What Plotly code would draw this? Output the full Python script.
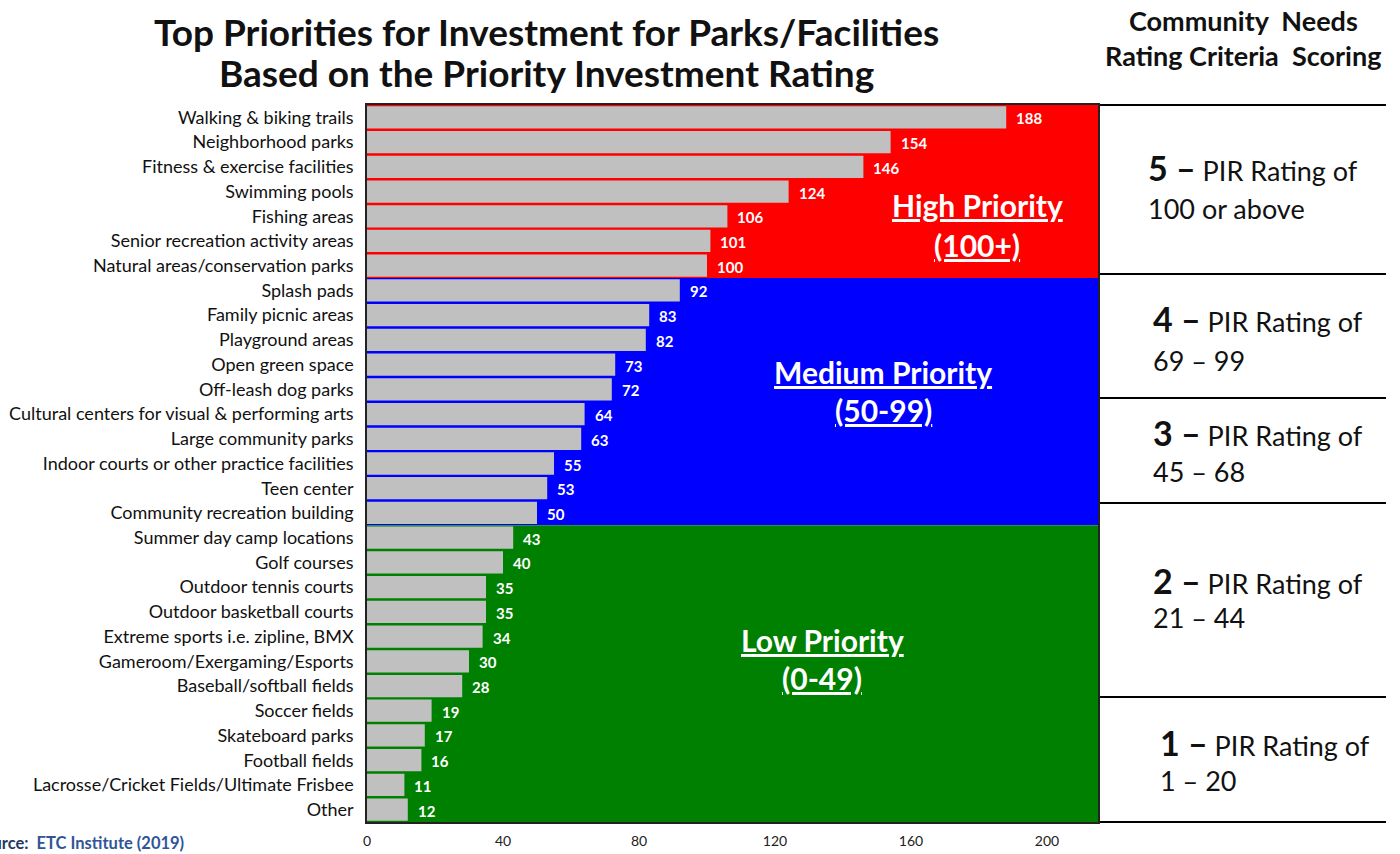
import plotly.graph_objects as go

categories = [
    "Walking & biking trails", "Neighborhood parks", "Fitness & exercise facilities",
    "Swimming pools", "Fishing areas", "Senior recreation activity areas",
    "Natural areas/conservation parks", "Splash pads", "Family picnic areas",
    "Playground areas", "Open green space", "Off-leash dog parks",
    "Cultural centers for visual & performing arts", "Large community parks",
    "Indoor courts or other practice facilities", "Teen center",
    "Community recreation building", "Summer day camp locations", "Golf courses",
    "Outdoor tennis courts", "Outdoor basketball courts",
    "Extreme sports i.e. zipline, BMX", "Gameroom/Exergaming/Esports",
    "Baseball/softball fields", "Soccer fields", "Skateboard parks",
    "Football fields", "Lacrosse/Cricket Fields/Ultimate Frisbee", "Other",
]
pir = [188, 154, 146, 124, 106, 101, 100, 92, 83, 82, 73, 72, 64, 63, 55, 53, 50,
       43, 40, 35, 35, 34, 30, 28, 19, 17, 16, 11, 12]
x_ticks = [0, 40, 80, 120, 160, 200]

priority_names = ["High Priority", "Medium Priority", "Low Priority"]
priority_ranges = ["(100+)", "(50-99)", "(0-49)"]
priority_min = [100, 50, 0]
priority_colors = ["#ff0000", "#0000ff", "#008000"]

scoring_digits = ["5", "4", "3", "2", "1"]
scoring_ranges = ["100 or above", "69 – 99", "45 – 68", "21 – 44", "1 – 20"]

FONT = "Lato"
W, H = 1400, 854
L, R, T, B = 367, 302, 105, 32
PW, PH = W - L - R, H - T - B
XMAX = 215


def px(x):
    return (x - L) / PW


def py(y):
    return (H - B - y) / PH


n = len(categories)
ypos = list(range(n))


def group_of(v):
    for gi, m in enumerate(priority_min):
        if v >= m:
            return gi
    return len(priority_min) - 1


groups = [group_of(v) for v in pir]

fig = go.Figure()
fig.add_trace(go.Bar(
    y=ypos, x=pir, orientation="h",
    marker=dict(color="#c0c0c0", line=dict(width=0)),
    hoverinfo="skip",
))

shapes = []
start = 0
for i in range(1, n + 1):
    if i == n or groups[i] != groups[start]:
        shapes.append(dict(type="rect", xref="x domain", yref="y", x0=0, x1=1,
                           y0=start - 0.5, y1=i - 0.5,
                           fillcolor=priority_colors[groups[start]],
                           line=dict(width=0), layer="below"))
        start = i

annotations = []

# value labels, placed through the axes
for i, v in zip(ypos, pir):
    annotations.append(dict(xref="x", yref="y", x=v, y=i, xanchor="left",
                            yanchor="middle", xshift=8, yshift=-1, text=f"<b>{v}</b>",
                            showarrow=False,
                            font=dict(family=FONT, size=15, color="white")))


def ann(x, y, text, size, color="#111111", xanchor="center", **kw):
    annotations.append(dict(xref="paper", yref="paper", x=px(x), y=py(y),
                            xanchor=xanchor, yanchor="middle", text=text,
                            showarrow=False,
                            font=dict(family=FONT, size=size, color=color), **kw))


prio_pos = [(977, 205, 245), (883, 372, 410), (822, 640, 678)]
for (xc, y1, y2), name, rng in zip(prio_pos, priority_names, priority_ranges):
    ann(xc, y1, f"<u><b>{name}</b></u>", 30, "white")
    ann(xc, y2, f"<u><b>{rng}</b></u>", 30, "white")

for yl in [105, 274, 398, 503, 697, 822]:
    shapes.append(dict(type="line", xref="paper", yref="paper",
                       x0=px(1100), x1=px(1386), y0=py(yl), y1=py(yl),
                       line=dict(color="black", width=2)))

panel_text = [(1146, 168, 208), (1151, 318, 360), (1151, 432, 472),
              (1151, 580, 617), (1158, 742, 780)]
for (xl, y1, y2), d, rng in zip(panel_text, scoring_digits, scoring_ranges):
    ann(xl, y1, f"<b><span style='font-size:34px'>{d} –</span></b> PIR Rating of",
        27, xanchor="left")
    ann(xl, y2, rng, 27, xanchor="left")

ann(546, 31, "<b>Top Priorities for Investment for Parks/Facilities</b>", 37)
ann(546, 72, "<b>Based on the Priority Investment Rating</b>", 37)
ann(1243, 21, "<b>Community  Needs</b>", 27)
ann(1243, 56, "<b>Rating Criteria  Scoring</b>", 27)
ann(-28, 843, "<b><span style='color:#1f3864'>Source:</span>  ETC Institute (2019)</b>",
    16.5, "#2f5597", xanchor="left")

fig.update_layout(
    width=W, height=H,
    margin=dict(l=L, r=R, t=T, b=B, autoexpand=False),
    paper_bgcolor="white", plot_bgcolor="white",
    showlegend=False, bargap=0.1,
    shapes=shapes, annotations=annotations,
    xaxis=dict(range=[0, XMAX], tickvals=x_ticks, showgrid=False, zeroline=False,
               showline=True, mirror=True, linecolor="#222222", linewidth=1.5,
               ticks="", tickfont=dict(family=FONT, size=14, color="#222222"),
               ticklabelstandoff=5, automargin=False),
    yaxis=dict(range=[n - 0.5, -0.5], tickvals=ypos, ticktext=categories,
               showgrid=False, zeroline=False, showline=True, mirror=True,
               linecolor="#222222", linewidth=1.5, ticks="",
               tickfont=dict(family=FONT, size=18, color="#111111"),
               ticklabelstandoff=8, automargin=False),
)

fig.write_html("out.html", config={"displayModeBar": False},
               post_script="document.body.style.margin='0';document.body.style.overflow='hidden';")
